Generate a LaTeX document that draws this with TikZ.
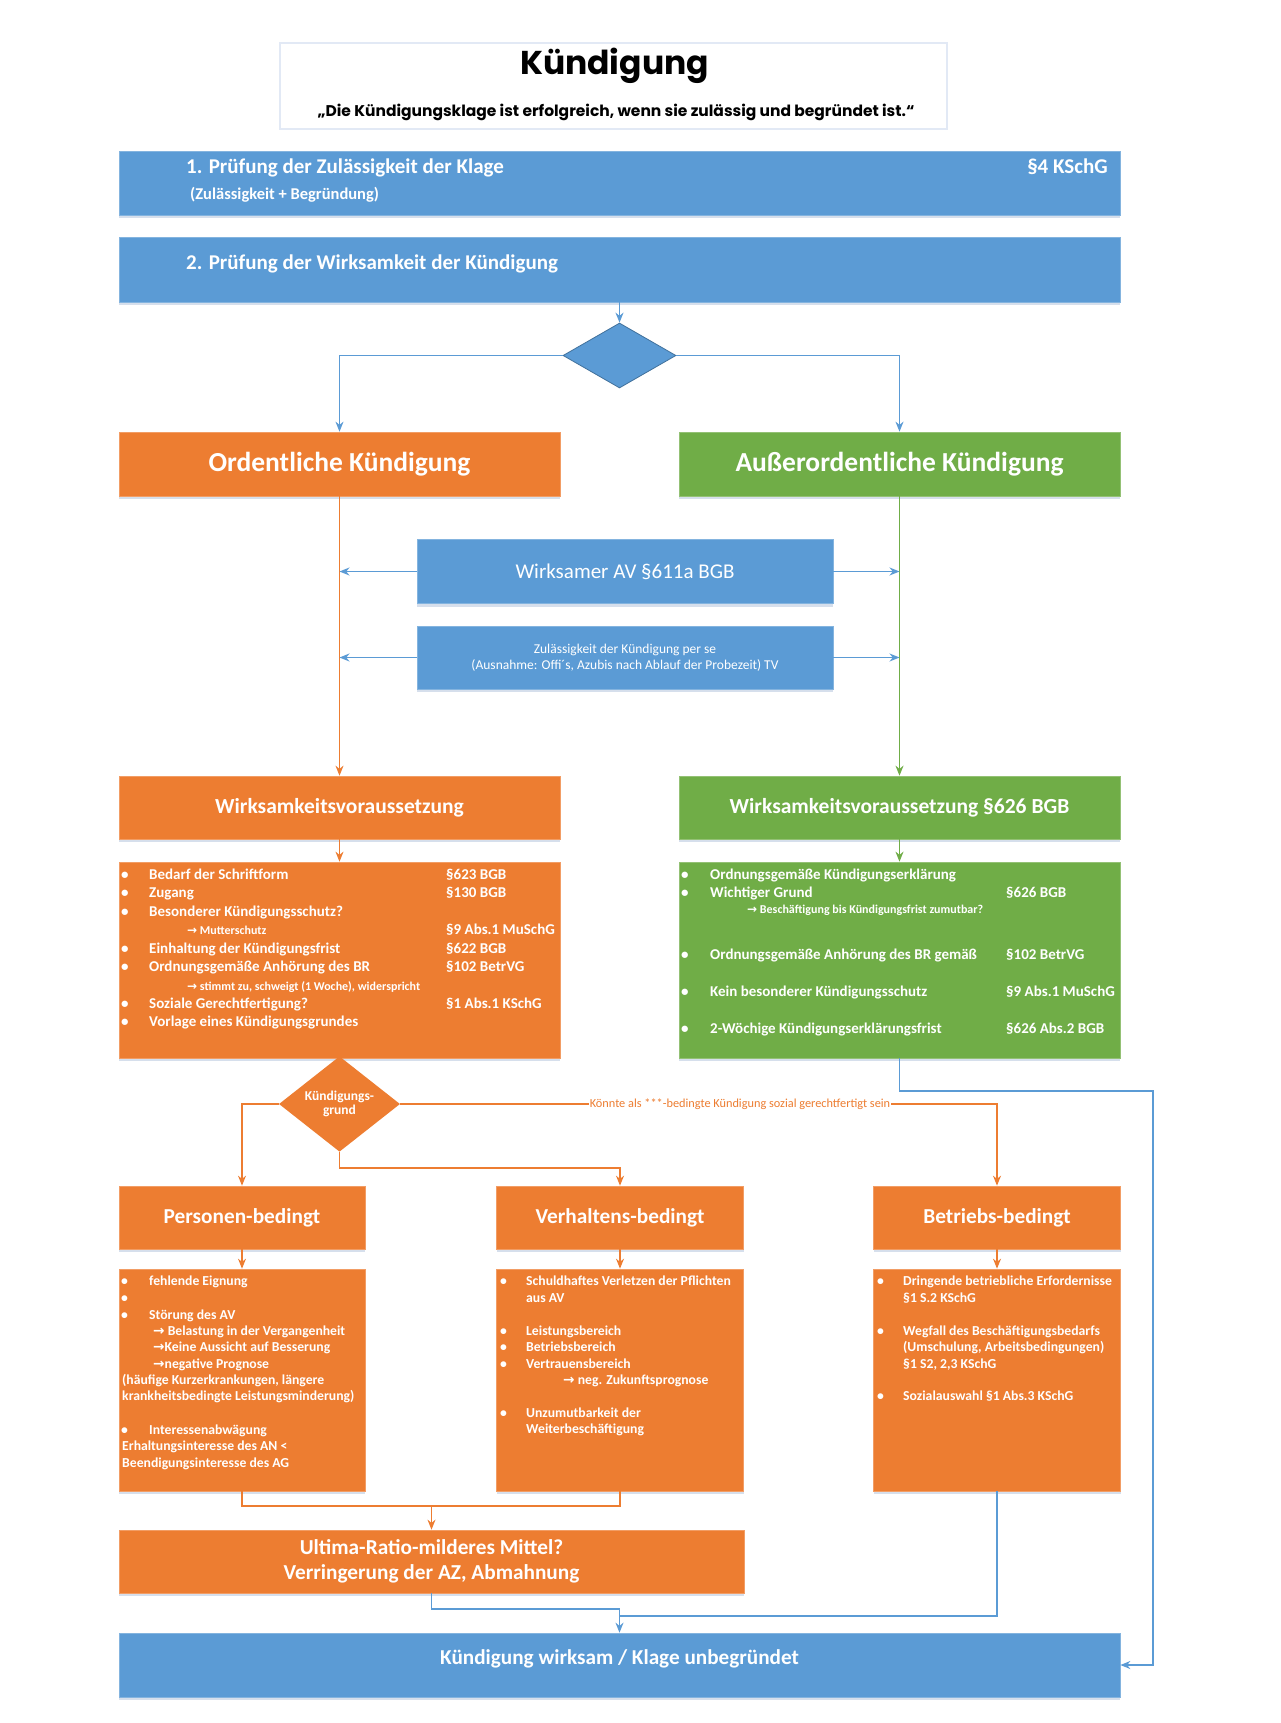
\documentclass[tikz,border=0pt]{standalone}
\usepackage{fontspec}
\setmainfont{Carlito}
\newfontfamily\titlefont{Poppins}
\newfontfamily\arrfont{DejaVu Sans}
\usetikzlibrary{arrows.meta,shapes.geometric,shadows}
\definecolor{cblue}{HTML}{5B9BD5}
\definecolor{cblued}{HTML}{41719C}
\definecolor{corange}{HTML}{ED7D31}
\definecolor{cgreen}{HTML}{70AD47}
\definecolor{cshadow}{HTML}{D6DFEC}
\definecolor{ctitle}{HTML}{E2E9F5}
\newcommand\fs[1]{\fontsize{#1}{#1}\selectfont}
\newcommand\ra{{\arrfont →}}
\newcommand\bt[2]{\makebox[#1pt][l]{•}#2}
\tikzset{
  sh/.style={drop shadow={shadow xshift=0pt,shadow yshift=-3pt,fill=cshadow,opacity=1}},
  boxbase/.style={rectangle,inner sep=0pt,line width=0.7pt,text=white,sh},
  bbox/.style={boxbase,fill=cblue,draw=cblue!75!white},
  obox/.style={boxbase,fill=corange,draw=corange!75!white},
  gbox/.style={boxbase,fill=cgreen,draw=cgreen!75!white},
  hd/.style={text=white,font=\bfseries\fs{21.2},inner sep=0pt,align=center},
  lt/.style={anchor=base west,inner sep=0pt,text=white,font=\bfseries\fs{15}},
  st/.style={anchor=base west,inner sep=0pt,text=white,font=\bfseries\fs{12}},
  pt/.style={anchor=base west,inner sep=0pt,text=white,font=\bfseries\fs{13.7}},
  bline/.style={draw=cblue,line width=1.3pt},
  oline/.style={draw=corange,line width=1.3pt},
  gline/.style={draw=cgreen,line width=1.3pt},
  tip/.style={-{Stealth[length=10pt,width=8pt]}}
}
\begin{document}
\begin{tikzpicture}[x=1pt,y=-1pt]
\useasboundingbox[fill=white] (0,0) rectangle (1280,1723);

% title
\node[rectangle,draw=ctitle,line width=1.5pt,fill=white,minimum width=667pt,minimum height=86pt] (tb) at (613.5,86) {};
\node[anchor=base,inner sep=0pt,font=\titlefont\bfseries\fs{33}] (tt) at (614.5,75) {Kündigung};
\node[anchor=base,inner sep=0pt,font=\titlefont\bfseries\fs{15.5}] (ts) at (616,117) {„Die Kündigungsklage ist erfolgreich, wenn sie zulässig und begründet ist.“};

% top blue boxes
\node[bbox,minimum width=1001pt,minimum height=64pt] (b1) at (619.5,183) {};
\node[anchor=base west,inner sep=0pt,text=white,font=\bfseries\fs{21}] (b1t) at (186,174) {1. Prüfung der Zulässigkeit der Klage};
\node[anchor=base east,inner sep=0pt,text=white,font=\bfseries\fs{21}] (b1r) at (1108,174) {§4 KSchG};
\node[anchor=base west,inner sep=0pt,text=white,font=\bfseries\fs{16.5}] (b1s) at (190,199.5) {(Zulässigkeit + Begründung)};
\node[bbox,minimum width=1001pt,minimum height=65pt] (b2) at (619.5,269.5) {};
\node[anchor=base west,inner sep=0pt,text=white,font=\bfseries\fs{21}] (b2t) at (186,269) {2. Prüfung der Wirksamkeit der Kündigung};

% first decision
\node[diamond,fill=cblue,draw=cblued,line width=0.8pt,inner sep=0pt,minimum width=113pt,minimum height=65pt] (d1) at (619.5,355.5) {};

\node[obox,minimum width=441pt,minimum height=64pt,font=\bfseries\fs{27.5}] (ord) at (339.5,464) {Ordentliche Kündigung};
\node[gbox,minimum width=441pt,minimum height=64pt,font=\bfseries\fs{27.5}] (aus) at (899.5,464) {Außerordentliche Kündigung};

\node[bbox,minimum width=416pt,minimum height=64pt,font=\fs{21}] (av) at (625,571.5) {Wirksamer AV §611a BGB};
\node[bbox,minimum width=416pt,minimum height=63pt,font=\fs{13.5},align=center] (zul) at (625,657.5) {Zulässigkeit der Kündigung per se\\[3pt](Ausnahme: Offi´s, Azubis nach Ablauf der Probezeit) TV};

\node[obox,minimum width=441pt,minimum height=63pt,font=\bfseries\fs{21.5}] (wo) at (339.5,807.5) {Wirksamkeitsvoraussetzung};
\node[gbox,minimum width=441pt,minimum height=63pt,font=\bfseries\fs{21.5}] (wa) at (899.5,807.5) {Wirksamkeitsvoraussetzung §626 BGB};

\node[obox,minimum width=441pt,minimum height=196pt] (lo) at (339.5,960) {};
\node[gbox,minimum width=441pt,minimum height=196pt] (la) at (899.5,960) {};

% orange list
\node[lt] (lo1) at (121,879.5) {\bt{28}{Bedarf der Schriftform}};
\node[lt] (lo1r) at (446,879.5) {§623 BGB};
\node[lt] (lo2) at (121,897.5) {\bt{28}{Zugang}};
\node[lt] (lo2r) at (446,897.5) {§130 BGB};
\node[lt] (lo3) at (121,916.5) {\bt{28}{Besonderer Kündigungsschutz?}};
\node[st] (lo4) at (187,934) {\ra{} Mutterschutz};
\node[lt] (lo4r) at (446,934.5) {§9 Abs.1 MuSchG};
\node[lt] (lo5) at (121,953.5) {\bt{28}{Einhaltung der Kündigungsfrist}};
\node[lt] (lo5r) at (446,953.5) {§622 BGB};
\node[lt] (lo6) at (121,971.5) {\bt{28}{Ordnungsgemäße Anhörung des BR}};
\node[lt] (lo6r) at (446,971.5) {§102 BetrVG};
\node[st] (lo7) at (187,990) {\ra{} stimmt zu, schweigt (1 Woche), widerspricht};
\node[lt] (lo8) at (121,1008.5) {\bt{28}{Soziale Gerechtfertigung?}};
\node[lt] (lo8r) at (446,1008.5) {§1 Abs.1 KSchG};
\node[lt] (lo9) at (121,1026.5) {\bt{28}{Vorlage eines Kündigungsgrundes}};

% green list
\node[lt] (la1) at (681,879.5) {\bt{29}{Ordnungsgemäße Kündigungserklärung}};
\node[lt] (la2) at (681,897.5) {\bt{29}{Wichtiger Grund}};
\node[lt] (la2r) at (1006,897.5) {§626 BGB};
\node[st] (la3) at (747,913) {\ra{} Beschäftigung bis Kündigungsfrist zumutbar?};
\node[lt] (la4) at (681,959.5) {\bt{29}{Ordnungsgemäße Anhörung des BR gemäß}};
\node[lt] (la4r) at (1006,959.5) {§102 BetrVG};
\node[lt] (la5) at (681,996.5) {\bt{29}{Kein besonderer Kündigungsschutz}};
\node[lt] (la5r) at (1006,996.5) {§9 Abs.1 MuSchG};
\node[lt] (la6) at (681,1033.5) {\bt{29}{2-Wöchige Kündigungserklärungsfrist}};
\node[lt] (la6r) at (1006,1033.5) {§626 Abs.2 BGB};

% second decision
\node[diamond,fill=corange,inner sep=0pt,minimum width=121pt,minimum height=74pt,text=white,font=\bfseries\fs{13.5},align=center] (d2) at (339.5,1104) {Kündigungs-\\[1pt]grund};

\node[obox,minimum width=246pt,minimum height=63pt,font=\bfseries\fs{21.3}] (pb) at (242,1217.5) {Personen-bedingt};
\node[obox,minimum width=247pt,minimum height=63pt,font=\bfseries\fs{21.3}] (vb) at (620,1217.5) {Verhaltens-bedingt};
\node[obox,minimum width=247pt,minimum height=63pt,font=\bfseries\fs{21.3}] (bb) at (997,1217.5) {Betriebs-bedingt};

\node[obox,minimum width=246pt,minimum height=222pt] (pl) at (242,1380) {};
\node[obox,minimum width=247pt,minimum height=222pt] (vl) at (620,1380) {};
\node[obox,minimum width=247pt,minimum height=222pt] (bl) at (997,1380) {};

% Personen list
\node[pt] (pl1) at (121,1285) {\bt{28}{fehlende Eignung}};
\node[pt] (pl2) at (121,1302) {\bt{28}{}};
\node[pt] (pl3) at (121,1319) {\bt{28}{Störung des AV}};
\node[pt] (pl4) at (153,1335) {\ra{} Belastung in der Vergangenheit};
\node[pt] (pl5) at (153,1351) {\ra Keine Aussicht auf Besserung};
\node[pt] (pl6) at (153,1368) {\ra negative Prognose};
\node[pt] (pl7) at (122,1384) {(häufige Kurzerkrankungen, längere};
\node[pt] (pl8) at (122,1400) {krankheitsbedingte Leistungsminderung)};
\node[pt] (pl9) at (121,1434) {\bt{28}{Interessenabwägung}};
\node[pt] (pl10) at (122,1450) {Erhaltungsinteresse des AN <};
\node[pt] (pl11) at (122,1467) {Beendigungsinteresse des AG};

% Verhaltens list
\node[pt] (vl1) at (500,1285) {\bt{26}{Schuldhaftes Verletzen der Pflichten}};
\node[pt] (vl2) at (526,1302) {aus AV};
\node[pt] (vl3) at (500,1335) {\bt{26}{Leistungsbereich}};
\node[pt] (vl4) at (500,1351) {\bt{26}{Betriebsbereich}};
\node[pt] (vl5) at (500,1368) {\bt{26}{Vertrauensbereich}};
\node[pt] (vl6) at (563,1384) {\ra{} neg. Zukunftsprognose};
\node[pt] (vl7) at (500,1417) {\bt{26}{Unzumutbarkeit der}};
\node[pt] (vl8) at (526,1433) {Weiterbeschäftigung};

% Betriebs list
\node[pt] (bl1) at (877,1285) {\bt{26}{Dringende betriebliche Erfordernisse}};
\node[pt] (bl2) at (903,1302) {§1 S.2 KSchG};
\node[pt] (bl3) at (877,1335) {\bt{26}{Wegfall des Beschäftigungsbedarfs}};
\node[pt] (bl4) at (903,1351) {(Umschulung, Arbeitsbedingungen)};
\node[pt] (bl5) at (903,1368) {§1 S2, 2,3 KSchG};
\node[pt] (bl6) at (877,1400) {\bt{26}{Sozialauswahl §1 Abs.3 KSchG}};

\node[obox,minimum width=625pt,minimum height=63pt,font=\bfseries\fs{21.3},align=center] (ur) at (431.5,1561.5) {Ultima-Ratio-milderes Mittel?\\[4pt]Verringerung der AZ, Abmahnung};
\node[bbox,minimum width=1001pt,minimum height=64pt] (fin) at (619.5,1665) {};
\node[hd] (fint) at (619.5,1659) {Kündigung wirksam / Klage unbegründet};

% helper coordinates
\coordinate (rr) at (1153,1091);
\coordinate (m1) at (339.5,1168);
\coordinate (m2) at (431.5,1506);
\coordinate (m3) at (619.5,1609);
\coordinate (m5) at (619.5,1616);

% connectors
\draw[bline,tip] (b2.south) -- (d1.north);
\draw[bline,tip] (d1.west) -| (ord.north);
\draw[bline,tip] (d1.east) -| (aus.north);
\draw[oline,tip] (ord.south) -- (wo.north);
\draw[gline,tip] (aus.south) -- (wa.north);
\draw[bline,tip] (av.west) -- (av.west -| ord.south);
\draw[bline,tip] (av.east) -- (av.east -| aus.south);
\draw[bline,tip] (zul.west) -- (zul.west -| ord.south);
\draw[bline,tip] (zul.east) -- (zul.east -| aus.south);
\draw[oline,tip] (wo.south) -- (lo.north);
\draw[gline,tip] (wa.south) -- (la.north);
\draw[oline,tip] (lo.south) -- (d2.north);
\draw[bline,tip] (la.south) |- (rr) |- (fin.east);
\draw[oline,tip] (d2.west) -| (pb.north);
\draw[oline,tip] (d2.east) -| (bb.north);
\node[fill=white,inner sep=1pt,text=corange,font=\fs{12.3}] (lbl) at (740,1104) {Könnte als ***-bedingte Kündigung sozial gerechtfertigt sein};
\draw[oline,tip] (d2.south) -- (m1) -| (vb.north);
\draw[oline,tip] (pb.south) -- (pl.north);
\draw[oline,tip] (vb.south) -- (vl.north);
\draw[oline,tip] (bb.south) -- (bl.north);
\draw[oline] (pl.south) |- (m2) -| (vl.south);
\draw[oline,tip] (m2) -- (ur.north);
\draw[bline] (ur.south) |- (m3);
\draw[bline,tip] (m3) -- (fin.north);
\draw[bline] (bl.south) |- (m5);
\end{tikzpicture}
\end{document}
